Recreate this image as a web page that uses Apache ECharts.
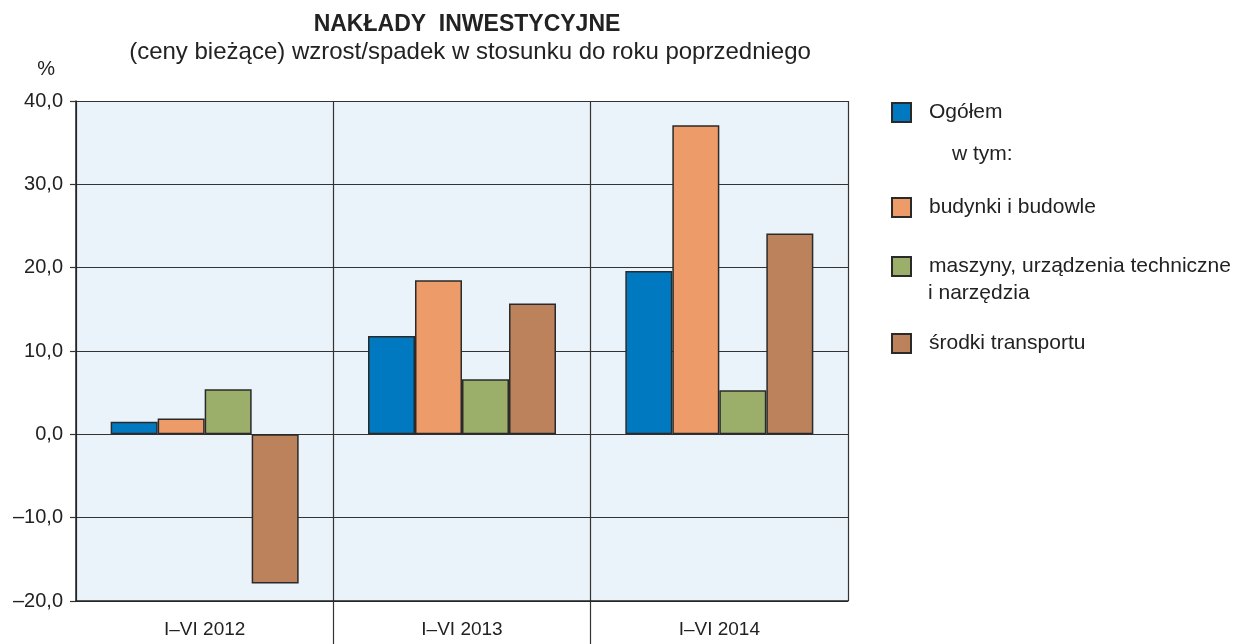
<!DOCTYPE html>
<html>
<head>
<meta charset="utf-8">
<script src="https://cdn.jsdelivr.net/npm/echarts@6/dist/echarts.min.js"></script>
<style>
html,body{margin:0;padding:0;background:#fff;}
#chart{width:1237px;height:644px;}
</style>
</head>
<body>
<div id="chart"></div>
<script>
// ---- data ----
const categories = ['I\u2013VI 2012', 'I\u2013VI 2013', 'I\u2013VI 2014'];
const seriesNames = ['Ogółem', 'budynki i budowle', 'maszyny, urządzenia techniczne', 'środki transportu'];
const ogolem = [1.5, 11.8, 19.6];
const budynki = [1.9, 18.5, 37.1];
const maszyny = [5.4, 6.6, 5.3];
const srodki = [-17.9, 15.7, 24.1];
const yTickLabels = {'-20': '\u201320,0', '-10': '\u201310,0', '0': '0,0', '10': '10,0', '20': '20,0', '30': '30,0', '40': '40,0'};
const helperCategories = ['', '', '', ''];

const colors = ['#0079C1', '#EE9B6A', '#9BAE6A', '#BB825C'];
const FONT = '"Liberation Sans", Arial, sans-serif';

const chart = echarts.init(document.getElementById('chart'), null, {renderer: 'canvas'});

function barSeries(name, data, color) {
  return {
    name: name,
    type: 'bar',
    data: data,
    barWidth: 47,
    barGap: '0%',
    itemStyle: {color: color, borderColor: '#2a2a2a', borderWidth: 1.5},
    emphasis: {disabled: true},
    animation: false
  };
}

function legendAt(name, top) {
  return {
    data: [name],
    left: 891,
    top: top,
    orient: 'vertical',
    itemWidth: 19,
    itemHeight: 19,
    selectedMode: false,
    icon: 'rect',
    padding: 0,
    textStyle: {fontFamily: FONT, fontSize: 21, color: '#222', padding: [0, 0, 0, 13]}
  };
}

chart.setOption({
  animation: false,
  backgroundColor: '#fff',
  title: [
    {text: 'NAKŁADY  INWESTYCYJNE', left: 462, top: 8, textAlign: 'center',
     textStyle: {fontFamily: FONT, fontSize: 23, fontWeight: 'bold', color: '#222'}},
    {text: '(ceny bieżące) wzrost/spadek w stosunku do roku poprzedniego', left: 465, top: 35, textAlign: 'center',
     textStyle: {fontFamily: FONT, fontSize: 24, fontWeight: 'normal', color: '#222'}}
  ],
  legend: [
    legendAt(seriesNames[0], 102),
    legendAt(seriesNames[1], 197),
    legendAt(seriesNames[2], 256),
    legendAt(seriesNames[3], 333)
  ],
  graphic: [
    {type: 'text', left: 952, top: 144, style: {text: 'w tym:', font: '21px ' + FONT, fill: '#222'}},
    {type: 'text', left: 928, top: 283, style: {text: 'i narzędzia', font: '21px ' + FONT, fill: '#222'}}
  ],
  grid: {left: 76, right: 389, top: 101, bottom: 43, show: true, backgroundColor: '#EAF3FA', borderWidth: 0, containLabel: false},
  xAxis: [
    {
      type: 'category',
      data: categories,
      position: 'bottom',
      boundaryGap: true,
      axisLine: {show: true, onZero: false, lineStyle: {color: '#222', width: 1.5}},
      axisTick: {show: false},
      axisLabel: {fontFamily: FONT, fontSize: 19, color: '#222', margin: 19},
      splitLine: {show: true, lineStyle: {color: '#333', width: 1.2}}
    },
    {
      type: 'category',
      data: helperCategories,
      position: 'bottom',
      boundaryGap: false,
      axisLine: {show: false, onZero: false},
      axisLabel: {show: false},
      axisTick: {show: true, length: 43, interval: function (i) { return i === 1 || i === 2; },
                 lineStyle: {color: '#333', width: 1.2}},
      splitLine: {show: false}
    }
  ],
  yAxis: {
    type: 'value',
    min: -20,
    max: 40,
    interval: 10,
    name: '%',
    nameLocation: 'end',
    nameGap: 32,
    nameTextStyle: {fontFamily: FONT, fontSize: 20, color: '#222', align: 'right', verticalAlign: 'middle', padding: [0, 21, 0, 0]},
    axisLine: {show: true, lineStyle: {color: '#222', width: 1.5}},
    axisTick: {show: true, length: 6, lineStyle: {color: '#333', width: 1.2}},
    axisLabel: {fontFamily: FONT, fontSize: 20, color: '#222', margin: 13,
      formatter: function (v) { return yTickLabels[String(v)]; }},
    splitLine: {show: true, lineStyle: {color: '#333', width: 1.2}}
  },
  series: [
    barSeries(seriesNames[0], ogolem, colors[0]),
    barSeries(seriesNames[1], budynki, colors[1]),
    barSeries(seriesNames[2], maszyny, colors[2]),
    barSeries(seriesNames[3], srodki, colors[3])
  ]
});
</script>
</body>
</html>
